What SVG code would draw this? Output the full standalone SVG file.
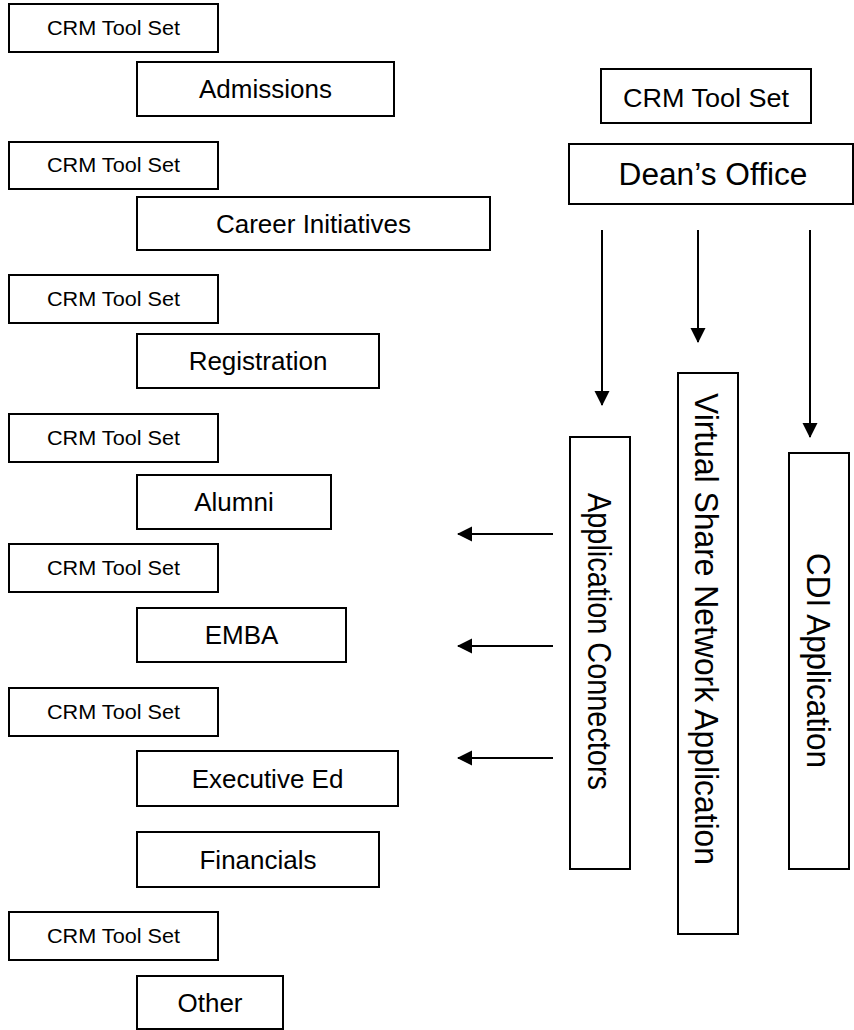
<svg xmlns="http://www.w3.org/2000/svg" width="854" height="1030" viewBox="0 0 854 1030">
  <style>
    .box { fill: #fff; stroke: #000; stroke-width: 2; }
    .lbl { font-family: "Liberation Sans", Arial, sans-serif; fill: #000; text-anchor: middle; }
    .sm { font-size: 20px; }
    .md { font-size: 26px; }
    .lg { font-size: 31px; }
    .vt { font-family: "Liberation Sans", Arial, sans-serif; fill: #000; font-size: 33px; text-anchor: start; }
    .edge { stroke: #000; stroke-width: 2; fill: none; marker-end: url(#arrow); }
  </style>
  <defs>
    <marker id="arrow" markerWidth="16" markerHeight="16" refX="14" refY="8" orient="auto" markerUnits="userSpaceOnUse">
      <path d="M0,0.5 L15,8 L0,15.5 Z" fill="#000"/>
    </marker>
  </defs>
  <rect width="854" height="1030" fill="#fff"/>

  <!-- left column: tool set / department pairs -->
  <g id="crm-1"><rect class="box" x="9" y="4" width="209" height="48"/><text class="lbl sm" x="113.5" y="35" textLength="133" lengthAdjust="spacingAndGlyphs">CRM Tool Set</text></g>
  <g id="admissions"><rect class="box" x="137" y="62" width="257" height="54"/><text class="lbl md" x="265.5" y="98">Admissions</text></g>

  <g id="crm-2"><rect class="box" x="9" y="142" width="209" height="47"/><text class="lbl sm" x="113.5" y="172" textLength="133" lengthAdjust="spacingAndGlyphs">CRM Tool Set</text></g>
  <g id="career"><rect class="box" x="137" y="197" width="353" height="53"/><text class="lbl md" x="313.5" y="233">Career Initiatives</text></g>

  <g id="crm-3"><rect class="box" x="9" y="275" width="209" height="48"/><text class="lbl sm" x="113.5" y="306" textLength="133" lengthAdjust="spacingAndGlyphs">CRM Tool Set</text></g>
  <g id="registration"><rect class="box" x="137" y="334" width="242" height="54"/><text class="lbl md" x="258" y="370">Registration</text></g>

  <g id="crm-4"><rect class="box" x="9" y="414" width="209" height="48"/><text class="lbl sm" x="113.5" y="445" textLength="133" lengthAdjust="spacingAndGlyphs">CRM Tool Set</text></g>
  <g id="alumni"><rect class="box" x="137" y="475" width="194" height="54"/><text class="lbl md" x="234" y="511">Alumni</text></g>

  <g id="crm-5"><rect class="box" x="9" y="544" width="209" height="48"/><text class="lbl sm" x="113.5" y="575" textLength="133" lengthAdjust="spacingAndGlyphs">CRM Tool Set</text></g>
  <g id="emba"><rect class="box" x="137" y="608" width="209" height="54"/><text class="lbl md" x="241.5" y="644">EMBA</text></g>

  <g id="crm-6"><rect class="box" x="9" y="688" width="209" height="48"/><text class="lbl sm" x="113.5" y="719" textLength="133" lengthAdjust="spacingAndGlyphs">CRM Tool Set</text></g>
  <g id="executive-ed"><rect class="box" x="137" y="751" width="261" height="55"/><text class="lbl md" x="267.5" y="788">Executive Ed</text></g>

  <g id="financials"><rect class="box" x="137" y="832" width="242" height="55"/><text class="lbl md" x="258" y="869">Financials</text></g>

  <g id="crm-7"><rect class="box" x="9" y="912" width="209" height="48"/><text class="lbl sm" x="113.5" y="943" textLength="133" lengthAdjust="spacingAndGlyphs">CRM Tool Set</text></g>
  <g id="other"><rect class="box" x="137" y="976" width="146" height="53"/><text class="lbl md" x="210" y="1012">Other</text></g>

  <!-- right column: dean's office and applications -->
  <g id="crm-dean"><rect class="box" x="601" y="69" width="210" height="54"/><text class="lbl md" x="706" y="107" textLength="166" lengthAdjust="spacingAndGlyphs">CRM Tool Set</text></g>
  <g id="deans-office"><rect class="box" x="569" y="144" width="284" height="60"/><text class="lbl lg" x="713" y="185" textLength="189" lengthAdjust="spacingAndGlyphs">Dean’s Office</text></g>

  <g id="app-connectors"><rect class="box" x="570" y="437" width="60" height="432"/><text class="vt" transform="translate(588,493) rotate(90)" textLength="297" lengthAdjust="spacingAndGlyphs">Application Connectors</text></g>
  <g id="virtual-share"><rect class="box" x="678" y="373" width="60" height="561"/><text class="vt" transform="translate(695,393) rotate(90)" textLength="472" lengthAdjust="spacingAndGlyphs">Virtual Share Network Application</text></g>
  <g id="cdi-app"><rect class="box" x="789" y="453" width="60" height="416"/><text class="vt" transform="translate(807,553) rotate(90)" textLength="215" lengthAdjust="spacingAndGlyphs">CDI Application</text></g>

  <g id="connectors">
    <line class="edge" x1="602" y1="230" x2="602" y2="405"/>
    <line class="edge" x1="698" y1="230" x2="698" y2="342"/>
    <line class="edge" x1="810" y1="230" x2="810" y2="437"/>
    <line class="edge" x1="553" y1="534" x2="458" y2="534"/>
    <line class="edge" x1="553" y1="646" x2="458" y2="646"/>
    <line class="edge" x1="553" y1="758" x2="458" y2="758"/>
  </g>
</svg>
